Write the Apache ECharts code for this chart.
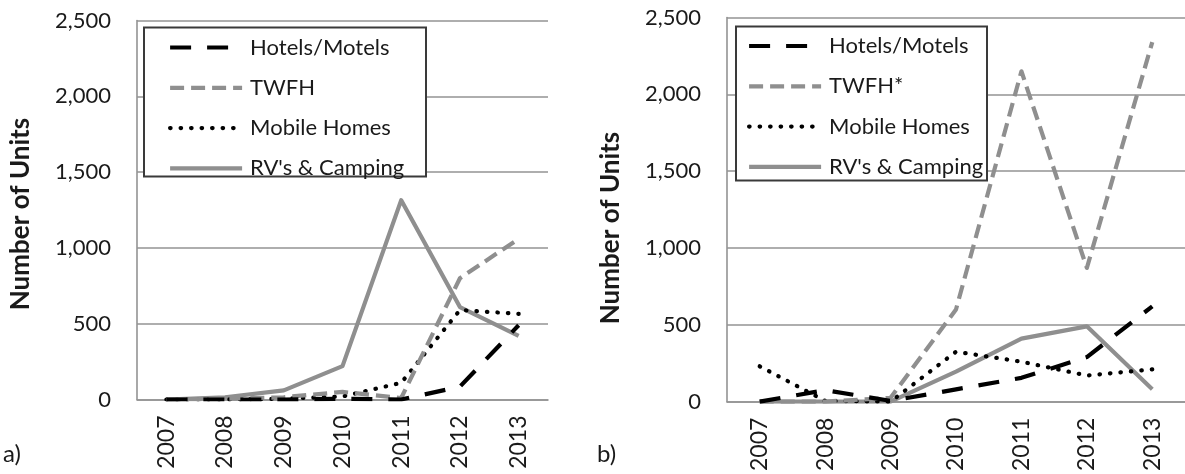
<!DOCTYPE html>
<html>
<head>
<meta charset="utf-8">
<title>Number of Units</title>
<script src="https://cdn.jsdelivr.net/npm/echarts@6/dist/echarts.min.js"></script>
<style>
  html, body { margin: 0; padding: 0; background: #fff; }
  #main { width: 1185px; height: 474px; }
</style>
</head>
<body>
<div id="main"></div>
<script type="text/javascript">
// years on the x axis (both panels)
var years = ['2007', '2008', '2009', '2010', '2011', '2012', '2013'];
var yTicks = [0, 500, 1000, 1500, 2000, 2500];

// panel a)
var hotelsA = [0, 0, 0, 5, 0, 85, 490];
var twfhA   = [0, 5, 15, 50, 10, 800, 1060];
var mobileA = [0, 0, 5, 20, 110, 590, 565];
var rvA     = [0, 15, 60, 220, 1315, 610, 420];

// panel b)
var hotelsB = [0, 75, 5, 80, 155, 290, 620];
var twfhB   = [0, 0, 25, 600, 2150, 870, 2340];
var mobileB = [230, 5, 0, 325, 260, 170, 210];
var rvB     = [0, 0, 0, 195, 410, 490, 80];

var namesA = ['Hotels/Motels', 'TWFH', 'Mobile Homes', "RV's & Camping"];
var namesB = ['Hotels/Motels', 'TWFH*', 'Mobile Homes', "RV's & Camping"];

var FONT = 'Lato';
var GRAY = '#8f8f8f';
var GRID_GRAY = '#939393';

var styles = [
  { color: '#000', width: 4.2, type: [21, 16], cap: 'butt' },
  { color: GRAY, width: 4.2, type: [14, 7], cap: 'butt' },
  { color: '#000', width: 4.2, type: [0.5, 10], cap: 'round' },
  { color: GRAY, width: 4.2, type: 'solid', cap: 'butt' }
];

function mkSeries(names, data, idx) {
  return names.map(function (n, i) {
    return {
      name: n,
      type: 'line',
      xAxisIndex: idx,
      yAxisIndex: idx,
      data: data[i],
      symbol: 'none',
      smooth: false,
      animation: false,
      color: styles[i].color,
      lineStyle: {
        color: styles[i].color,
        width: styles[i].width,
        type: styles[i].type,
        cap: styles[i].cap,
        join: 'round'
      },
      z: 2 + (3 - i)
    };
  });
}

function mkX(idx) {
  return {
    type: 'category',
    gridIndex: idx,
    data: years,
    boundaryGap: true,
    axisLine: { lineStyle: { color: GRID_GRAY, width: 1.6 } },
    axisTick: { show: false },
    axisLabel: { rotate: 90, margin: 16, fontFamily: FONT, fontSize: 23, color: '#1a1a1a' }
  };
}

function mkY(idx) {
  return {
    type: 'value',
    gridIndex: idx,
    min: yTicks[0],
    max: yTicks[yTicks.length - 1],
    interval: 500,
    axisLine: { show: true, lineStyle: { color: GRID_GRAY, width: 1.6 } },
    axisTick: { show: false },
    splitLine: { lineStyle: { color: GRID_GRAY, width: 1.6 } },
    axisLabel: {
      margin: 26,
      fontFamily: FONT,
      fontSize: 22,
      color: '#1a1a1a',
      formatter: function (v) { return v.toLocaleString('en-US'); }
    }
  };
}

function mkLegend(names, left, top) {
  return {
    data: names.map(function (n, i) {
      return {
        name: n,
        lineStyle: { color: styles[i].color, width: styles[i].width, type: styles[i].type, cap: styles[i].cap }
      };
    }),
    orient: 'vertical',
    left: left,
    top: top,
    padding: 0,
    itemWidth: 72,
    itemHeight: 20,
    itemGap: 18.3,
    selectedMode: false,
    itemStyle: { opacity: 0 },
    textStyle: { fontFamily: FONT, fontSize: 22, color: '#1a1a1a', lineHeight: 20, padding: [0, 0, 0, 3] },
    z: 6
  };
}

var myChart = echarts.init(document.getElementById('main'), null, { renderer: 'canvas' });

var option = {
  backgroundColor: '#fff',
  animation: false,
  grid: [
    { left: 137, top: 20.5, width: 411, height: 379 },
    { left: 727, top: 17.5, width: 462, height: 384.5 }
  ],
  xAxis: [mkX(0), mkX(1)],
  yAxis: [mkY(0), mkY(1)],
  legend: [mkLegend(namesA, 168, 36.5), mkLegend(namesB, 747, 35)],
  graphic: [
    { type: 'rect', z: 5, shape: { x: 144, y: 27.5, width: 282, height: 149 },
      style: { fill: '#fff', stroke: '#3a3a3a', lineWidth: 2 } },
    { type: 'rect', z: 5, shape: { x: 736, y: 26.5, width: 251, height: 154 },
      style: { fill: '#fff', stroke: '#3a3a3a', lineWidth: 2 } },
    { type: 'text', z: 5, x: 21, y: 214, rotation: Math.PI / 2,
      style: { text: 'Number of Units', font: 'bold 26px Lato', fill: '#1a1a1a', align: 'center', verticalAlign: 'middle' } },
    { type: 'text', z: 5, x: 611, y: 228, rotation: Math.PI / 2,
      style: { text: 'Number of Units', font: 'bold 26px Lato', fill: '#1a1a1a', align: 'center', verticalAlign: 'middle' } },
    { type: 'text', z: 5, x: 3, y: 454,
      style: { text: 'a)', font: '24px Lato', fill: '#1a1a1a', align: 'left', verticalAlign: 'middle' } },
    { type: 'text', z: 5, x: 597, y: 454,
      style: { text: 'b)', font: '24px Lato', fill: '#1a1a1a', align: 'left', verticalAlign: 'middle' } }
  ],
  series: mkSeries(namesA, [hotelsA, twfhA, mobileA, rvA], 0)
    .concat(mkSeries(namesB, [hotelsB, twfhB, mobileB, rvB], 1))
};

myChart.setOption(option);
</script>
</body>
</html>
